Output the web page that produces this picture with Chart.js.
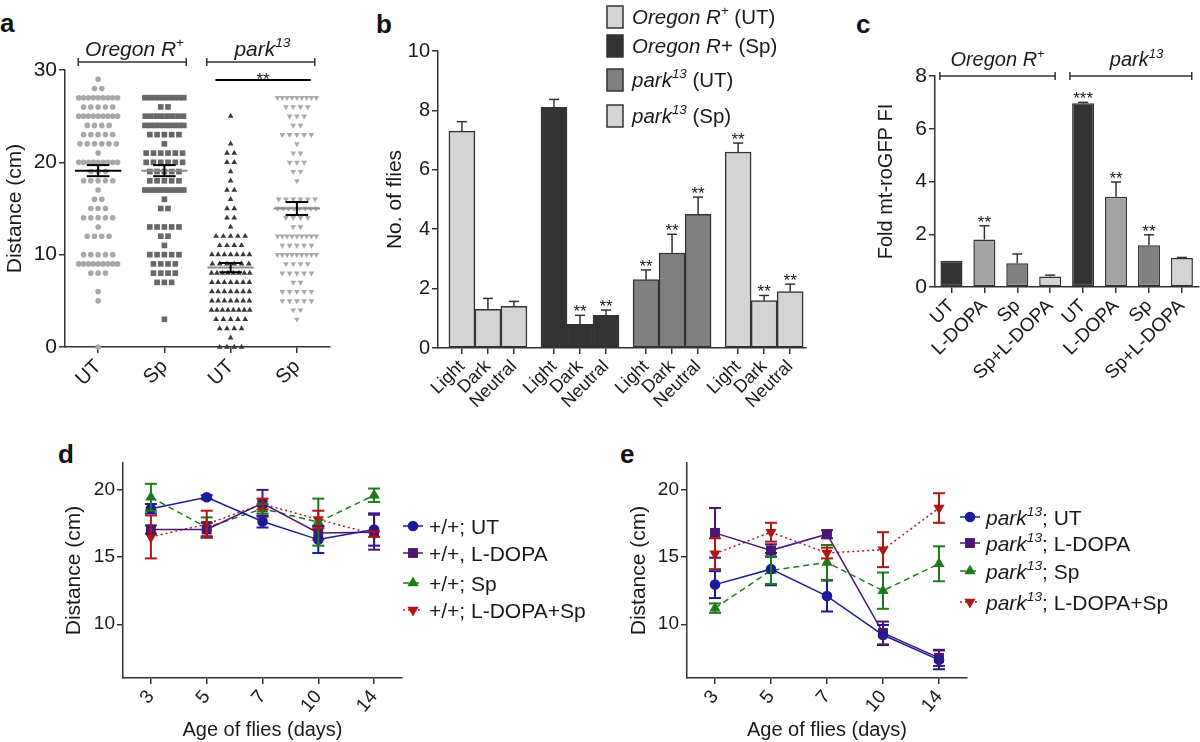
<!DOCTYPE html>
<html>
<head>
<meta charset="utf-8">
<script src="https://cdn.jsdelivr.net/npm/chart.js@4"></script>
<style>
  body { margin: 0; width: 1200px; height: 742px; position: relative; overflow: hidden; background: #fff;
         font-family: "Liberation Sans", Arial, sans-serif; }
  canvas { position: absolute; }
  .letter { position: absolute; font-weight: bold; font-size: 26px; line-height: 26px; color: #111; }
</style>
</head>
<body>
<div class="letter" style="left:0;top:10px">a</div>
<div class="letter" style="left:376px;top:11px">b</div>
<div class="letter" style="left:856px;top:11px">c</div>
<div class="letter" style="left:58px;top:441px">d</div>
<div class="letter" style="left:620px;top:441px">e</div>

<canvas id="chartA" width="345" height="400" style="left:0;top:0"></canvas>
<canvas id="chartB" width="440" height="410" style="left:370px;top:0"></canvas>
<canvas id="chartC" width="350" height="400" style="left:850px;top:0"></canvas>
<canvas id="chartD" width="560" height="322" style="left:40px;top:420px"></canvas>
<canvas id="chartE" width="600" height="322" style="left:600px;top:420px"></canvas>

<script>
// ---- panel a: distance climbed, one row per [distance, number of flies]
const groupsA = ["UT", "Sp", "UT", "Sp"];
const rowsOregonUT = [[29,1],[28,2],[27,9],[26,5],[25,9],[24,4],[23,5],[22,6],[21,1],[20,9],[19,3],[18,5],
                      [17,1],[16,2],[15,3],[14,5],[13,1],[12,4],[10,5],[9,9],[8,3],[6,1],[5,1],[0,1]];
const rowsOregonSp = [[27,9],[26,2],[25,8],[24,9],[23,5],[22,1],[21,6],[20,6],[19,5],[18,5],[17,9],[16,1],
                      [15,2],[13,5],[12,2],[11,1],[10,5],[9,4],[8,4],[7,3],[3,1]];
const rowsParkUT = [[25,1],[22,1],[21,2],[20,2],[19,1],[18,1],[17,2],[16,1],[15,2],[14,2],[13,1],[12,5],
                    [11,4],[10,7],[9,6],[8,8],[7,7],[6,7],[5,7],[4,8],[3,5],[2,4],[1,1],[0,4]];
const rowsParkSp = [[27,9],[26,4],[25,3],[24,2],[23,5],[22,1],[21,2],[20,3],[19,2],[18,1],[16,6],[15,8],
                    [14,4],[13,2],[12,9],[11,5],[10,9],[9,4],[8,5],[7,2],[6,5],[5,5],[4,2],[3,1]];
const meansA = [19.1, 19.1, 8.6, 15.0];
const semA = [0.6, 0.6, 0.5, 0.7];

// ---- panel b: phototaxis choice
const locationsB = ["Light", "Dark", "Neutral"];
const oregonUTb = [7.3, 1.3, 1.4];
const oregonUTbErr = [0.32, 0.37, 0.17];
const oregonSpb = [8.1, 0.8, 1.1];
const oregonSpbErr = [0.27, 0.3, 0.18];
const parkUTb = [2.3, 3.2, 4.5];
const parkUTbErr = [0.33, 0.63, 0.58];
const parkSpb = [6.6, 1.6, 1.9];
const parkSpbErr = [0.3, 0.17, 0.25];
const starsB = [["", "", ""], ["", "**", "**"], ["**", "**", "**"], ["**", "**", "**"]];

// ---- panel c: mt-roGFP fluorescence
const treatmentsC = ["UT", "L-DOPA", "Sp", "Sp+L-DOPA", "UT", "L-DOPA", "Sp", "Sp+L-DOPA"];
const foldC = [1.0, 1.8, 0.9, 0.4, 6.97, 3.42, 1.58, 1.1];
const foldErrC = [0, 0.52, 0.35, 0.05, 0.03, 0.56, 0.4, 0.02];
const starsC = ["", "**", "", "", "***", "**", "**", ""];

// ---- panels d, e: distance vs age
const ages = ["3", "5", "7", "10", "14"];
const treatmentsDE = ["UT", "L-DOPA", "Sp", "L-DOPA+Sp"];
const wtUT = [18.6, 19.45, 17.65, 16.3, 17.05];
const wtUTErr = [0.35, 0.15, 0.45, 1.0, 1.2];
const wtLD = [17.05, 17.05, 19.0, 16.8, 16.85];
const wtLDErr = [0.3, 0.5, 1.0, 0.5, 1.3];
const wtSp = [19.45, 17.2, 18.6, 17.6, 19.6];
const wtSpErr = [1.0, 0.75, 0.35, 1.75, 0.5];
const wtLDSp = [16.5, 17.45, 18.95, 17.8, 16.7];
const wtLDSpErr = [1.6, 1.0, 0.4, 0.65, 0.2];
const parkUT = [12.95, 14.1, 12.1, 9.2, 7.35];
const parkUTErr = [1.0, 1.2, 1.15, 0.75, 0.7];
const parkLD = [16.8, 15.5, 16.7, 9.35, 7.5];
const parkLDErr = [1.85, 0.45, 0.3, 0.85, 0.6];
const parkSp = [11.2, 14.0, 14.6, 12.5, 14.5];
const parkSpErr = [0.35, 1.0, 1.3, 1.35, 1.3];
const parkLDSp = [15.25, 16.85, 15.3, 15.55, 18.65];
const parkLDSpErr = [1.15, 0.7, 0.4, 1.3, 1.1];

const FONT = '"Liberation Sans", Arial, sans-serif';
const TEXT = "#1a1a1a";
const colorsDE = ["#1b1b9a", "#4b1670", "#1d7a1d", "#b31414"];
const dashesDE = [[], [], [6, 4], [2, 3]];
const markersDE = [{style: "circle", r: 5.3}, {style: "rect", r: 7}, {style: "triangle", r: 6.5}, {style: "down", r: 6.5}];

Chart.defaults.font.family = FONT;
Chart.defaults.color = TEXT;
Chart.defaults.animation = false;
Chart.defaults.events = [];
Chart.defaults.plugins.legend.display = false;
Chart.defaults.plugins.tooltip.enabled = false;

// ---------- drawing helpers
function line(ctx, x1, y1, x2, y2) {
    ctx.beginPath();
    ctx.moveTo(x1, y1);
    ctx.lineTo(x2, y2);
    ctx.stroke();
}

function richText(ctx, x, y, parts, size, align) {
    // parts: [text, style], style "i" italic, "s" superscript
    let total = 0;
    const pieces = parts.map(([t, s]) => {
        const sz = s.includes("s") ? size * 0.65 : size;
        const font = (s.includes("i") ? "italic " : "") + sz + "px " + FONT;
        ctx.font = font;
        const w = ctx.measureText(t).width;
        total += w;
        return {t, font, w, up: s.includes("s") ? size * 0.42 : 0};
    });
    let cx = align === "center" ? x - total / 2 : x;
    ctx.textAlign = "left";
    ctx.textBaseline = "alphabetic";
    ctx.fillStyle = TEXT;
    pieces.forEach(p => {
        ctx.font = p.font;
        ctx.fillText(p.t, cx, y - p.up);
        cx += p.w;
    });
}

function bracket(ctx, x1, x2, y) {
    ctx.strokeStyle = "#333";
    ctx.lineWidth = 1.5;
    line(ctx, x1, y, x2, y);
    line(ctx, x1, y - 4, x1, y + 4);
    line(ctx, x2, y - 4, x2, y + 4);
}

function marker(ctx, style, x, y, r, color) {
    ctx.fillStyle = color;
    ctx.beginPath();
    if (style === "circle") {
        ctx.arc(x, y, r, 0, Math.PI * 2);
    } else if (style === "rect") {
        const s = r * Math.SQRT1_2;
        ctx.rect(x - s, y - s, 2 * s, 2 * s);
    } else {
        const d = style === "down" ? -1 : 1;
        ctx.moveTo(x, y - d * r);
        ctx.lineTo(x + r * 0.866, y + d * r * 0.5);
        ctx.lineTo(x - r * 0.866, y + d * r * 0.5);
        ctx.closePath();
    }
    ctx.fill();
}

function makeAxis(o) {
    const ax = {
        type: o.type || "linear",
        min: o.min,
        max: o.max,
        offset: !!o.offset,
        border: {color: "#333", width: 1.5},
        grid: {drawOnChartArea: false, color: "#333", lineWidth: 1.5, tickLength: 6, offset: false},
        ticks: {color: TEXT, font: {size: o.fontSize}, padding: 2, autoSkip: false,
                maxRotation: o.rot || 0, minRotation: o.rot || 0},
        title: o.title ? {display: true, text: o.title, color: TEXT, font: {size: o.titleSize}, padding: o.titlePad}
                       : {display: false},
        afterFit: o.fit
    };
    if (o.values) ax.afterBuildTicks = s => { s.ticks = o.values.map(v => ({value: v})); };
    if (o.labels) ax.ticks.callback = (v, i) => o.labels[i];
    return ax;
}

// error bars (and significance stars) read from dataset.errors / dataset.stars
const errorBars = {
    id: "errorBars",
    afterDatasetsDraw(chart) {
        const ctx = chart.ctx, y = chart.scales.y;
        chart.data.datasets.forEach((ds, di) => {
            if (!ds.errors) return;
            const meta = chart.getDatasetMeta(di);
            ctx.save();
            ctx.setLineDash([]);
            ctx.strokeStyle = ds.errColor || ds.borderColor;
            ctx.lineWidth = ds.errWidth || 1.5;
            meta.data.forEach((el, i) => {
                const raw = ds.data[i];
                const v = typeof raw === "object" ? raw.y : raw;
                const e = ds.errors[i];
                const top = y.getPixelForValue(v + e);
                const bot = y.getPixelForValue(ds.upOnly ? v : v - e);
                const cap = ds.capWidth / 2;
                if (e > 0) {
                    line(ctx, el.x, bot, el.x, top);
                    line(ctx, el.x - cap, top, el.x + cap, top);
                    if (!ds.upOnly) line(ctx, el.x - cap, bot, el.x + cap, bot);
                }
                if (ds.stars && ds.stars[i]) {
                    ctx.fillStyle = TEXT;
                    ctx.font = "17px " + FONT;
                    ctx.textAlign = "center";
                    ctx.textBaseline = "alphabetic";
                    ctx.fillText(ds.stars[i], el.x, top + 2);
                }
            });
            ctx.restore();
        });
    }
};

// ---------- panel a
function swarm(rows, center) {
    const pts = [];
    rows.forEach(([value, count]) => {
        const step = Math.min(0.11, 0.66 / count);
        for (let i = 0; i < count; i++) {
            pts.push({x: center + (i - (count - 1) / 2) * step, y: value});
        }
    });
    return pts;
}

const meanColorsA = ["#000", "#8c8c8c", "#8c8c8c", "#8c8c8c"];

const panelAExtras = {
    id: "panelAExtras",
    afterDatasetsDraw(chart) {
        const {ctx, chartArea, scales: {x, y}} = chart;
        ctx.save();
        meansA.forEach((m, i) => {
            const c = i + 1;
            ctx.strokeStyle = meanColorsA[i];
            ctx.lineWidth = 2;
            line(ctx, x.getPixelForValue(c - 0.35), y.getPixelForValue(m), x.getPixelForValue(c + 0.35), y.getPixelForValue(m));
            ctx.strokeStyle = "#000";
            ctx.lineWidth = 2;
            const t = y.getPixelForValue(m + semA[i]), b = y.getPixelForValue(m - semA[i]);
            const xc = x.getPixelForValue(c), xl = x.getPixelForValue(c - 0.17), xr = x.getPixelForValue(c + 0.17);
            line(ctx, xc, t, xc, b);
            line(ctx, xl, t, xr, t);
            line(ctx, xl, b, xr, b);
        });
        const top = chartArea.top;
        bracket(ctx, x.getPixelForValue(0.7), x.getPixelForValue(2.33), top - 8);
        bracket(ctx, x.getPixelForValue(2.64), x.getPixelForValue(4.27), top - 8);
        richText(ctx, x.getPixelForValue(1.55), top - 14, [["Oregon R", "i"], ["+", "s"]], 21, "center");
        richText(ctx, x.getPixelForValue(3.48), top - 14, [["park", "i"], ["13", "is"]], 21, "center");
        ctx.strokeStyle = "#000";
        ctx.lineWidth = 2;
        line(ctx, x.getPixelForValue(2.77), top + 10, x.getPixelForValue(4.21), top + 10);
        ctx.fillStyle = TEXT;
        ctx.font = "17px " + FONT;
        ctx.textAlign = "center";
        ctx.fillText("**", x.getPixelForValue(3.49), top + 15);
        ctx.restore();
    }
};

function dotSet(rows, center, style, radius, color, rotation) {
    return {data: swarm(rows, center), pointStyle: style, pointRadius: radius, pointRotation: rotation || 0,
            pointBackgroundColor: color, backgroundColor: color, pointBorderWidth: 0, borderWidth: 0,
            showLine: false, clip: false};
}

new Chart(document.getElementById("chartA"), {
    type: "scatter",
    data: {
        datasets: [
            dotSet(rowsOregonUT, 1, "circle", 2.8, "#a8a8a8"),
            dotSet(rowsOregonSp, 2, "rect", 4, "#686868"),
            dotSet(rowsParkUT, 3, "triangle", 3.3, "#383838"),
            dotSet(rowsParkSp, 4, "triangle", 3.3, "#a8a8a8", 180)
        ]
    },
    options: {
        responsive: false,
        layout: {padding: {top: 70, right: 15, left: 0, bottom: 0}},
        scales: {
            x: makeAxis({min: 0.5, max: 4.5, values: [1, 2, 3, 4], labels: groupsA, rot: 45, fontSize: 20,
                         fit: s => { s.height = 53; }}),
            y: makeAxis({min: 0, max: 30, values: [0, 10, 20, 30], fontSize: 21, title: "Distance (cm)",
                         titleSize: 21, titlePad: {top: 3, bottom: 0}, fit: s => { s.width = 65; }})
        }
    },
    plugins: [panelAExtras]
});

// ---------- panel b
const seriesB = [oregonUTb, oregonSpb, parkUTb, parkSpb];
const errB = [oregonUTbErr, oregonSpbErr, parkUTbErr, parkSpbErr];
const fillB = ["#d4d4d4", "#333333", "#808080", "#d4d4d4"];
const legendB = [
    [["Oregon R", "i"], ["+", "s"], [" (UT)", ""]],
    [["Oregon R", "i"], ["+ (Sp)", ""]],
    [["park", "i"], ["13", "is"], [" (UT)", ""]],
    [["park", "i"], ["13", "is"], [" (Sp)", ""]]
];
const groupStrideB = 3.54;
const posB = [];
seriesB.forEach((vals, g) => vals.forEach((v, j) => posB.push(g * groupStrideB + j)));

const panelBLegend = {
    id: "panelBLegend",
    afterDraw(chart) {
        const {ctx, chartArea} = chart;
        const rows = [-34, -5, 29, 65];
        const bx = chartArea.left + 169;
        ctx.save();
        legendB.forEach((parts, k) => {
            const cy = chartArea.top + rows[k];
            ctx.fillStyle = fillB[k];
            ctx.fillRect(bx, cy - 11, 16, 22);
            ctx.strokeStyle = "#333";
            ctx.lineWidth = 1.5;
            ctx.strokeRect(bx, cy - 11, 16, 22);
            richText(ctx, bx + 25, cy + 7, parts, 20.5, "left");
        });
        ctx.restore();
    }
};

new Chart(document.getElementById("chartB"), {
    type: "bar",
    data: {
        datasets: seriesB.map((vals, g) => ({
            data: vals.map((v, j) => ({x: g * groupStrideB + j, y: v})),
            backgroundColor: fillB[g], borderColor: "#333", borderWidth: 1.5, borderSkipped: false,
            grouped: false, barPercentage: 1, categoryPercentage: 1,
            errors: errB[g], stars: starsB[g], upOnly: true, capWidth: 10, errColor: "#333", errWidth: 1.5
        }))
    },
    options: {
        responsive: false,
        layout: {padding: {top: 51, right: 4, left: 0, bottom: 0}},
        scales: {
            x: makeAxis({min: -0.92, max: 13.23, values: posB, labels: posB.map((p, i) => locationsB[i % 3]),
                         rot: 45, fontSize: 18, fit: s => { s.height = 62; }}),
            y: makeAxis({min: 0, max: 10, values: [0, 2, 4, 6, 8, 10], fontSize: 20, title: "No. of flies",
                         titleSize: 21, titlePad: {top: 13, bottom: 0}, fit: s => { s.width = 68; }})
        }
    },
    plugins: [errorBars, panelBLegend]
});

// ---------- panel c
const fillC = ["#333333", "#a3a3a3", "#808080", "#d4d4d4", "#333333", "#a3a3a3", "#808080", "#d4d4d4"];

const panelCExtras = {
    id: "panelCExtras",
    afterDraw(chart) {
        const {ctx, chartArea, scales: {x}} = chart;
        const step = (x.right - x.left) / treatmentsC.length;
        const px = v => x.left + (v + 0.5) * step;
        const top = chartArea.top;
        ctx.save();
        bracket(ctx, px(-0.35), px(3.15), top);
        bracket(ctx, px(3.6), px(7.3), top);
        richText(ctx, px(1.4), top - 10, [["Oregon R", "i"], ["+", "s"]], 20, "center");
        richText(ctx, px(5.62), top - 10, [["park", "i"], ["13", "is"]], 20, "center");
        ctx.restore();
    }
};

new Chart(document.getElementById("chartC"), {
    type: "bar",
    data: {
        labels: treatmentsC,
        datasets: [{
            data: foldC, backgroundColor: fillC, borderColor: "#333", borderWidth: 1.5, borderSkipped: false,
            barPercentage: 0.67, categoryPercentage: 1,
            errors: foldErrC, stars: starsC, upOnly: true, capWidth: 10, errColor: "#333", errWidth: 1.5
        }]
    },
    options: {
        responsive: false,
        layout: {padding: {top: 76, right: 0, left: 0, bottom: 0}},
        scales: {
            x: makeAxis({type: "category", offset: true, rot: 45, fontSize: 19, fit: s => { s.height = 113; }}),
            y: makeAxis({min: 0, max: 8, values: [0, 2, 4, 6, 8], fontSize: 21, title: "Fold mt-roGFP FI",
                         titleSize: 20, titlePad: {top: 24, bottom: 0}, fit: s => { s.width = 85; }})
        }
    },
    plugins: [errorBars, panelCExtras]
});

// ---------- panels d, e
function lineSets(series, errs) {
    return series.map((vals, k) => ({
        data: vals, errors: errs[k], capWidth: 12, errWidth: 2,
        borderColor: colorsDE[k], backgroundColor: colorsDE[k], pointBackgroundColor: colorsDE[k],
        pointStyle: markersDE[k].style === "down" ? "triangle" : markersDE[k].style,
        pointRotation: markersDE[k].style === "down" ? 180 : 0,
        pointRadius: markersDE[k].r, pointBorderWidth: 0,
        borderWidth: 1.5, borderDash: dashesDE[k], fill: false, tension: 0, clip: false
    }));
}

function lineLegend(id, labels, dx, rows) {
    return {
        id: id,
        afterDraw(chart) {
            const {ctx, chartArea} = chart;
            const x0 = chartArea.right + dx;
            ctx.save();
            labels.forEach((parts, k) => {
                const y = chartArea.top + rows[k];
                ctx.strokeStyle = colorsDE[k];
                ctx.lineWidth = 1.5;
                ctx.setLineDash(dashesDE[k]);
                line(ctx, x0 - 10, y, x0 + 10, y);
                ctx.setLineDash([]);
                marker(ctx, markersDE[k].style, x0, y, markersDE[k].r, colorsDE[k]);
                richText(ctx, x0 + 16, y + 7.5, parts, 21, "left");
            });
            ctx.restore();
        }
    };
}

function lineOptions(yWidth, yTitlePad, rightPad) {
    return {
        responsive: false,
        layout: {padding: {top: 43, right: rightPad, left: 0, bottom: 0}},
        scales: {
            x: makeAxis({type: "category", offset: true, rot: 50, fontSize: 19, title: "Age of flies (days)",
                         titleSize: 20, titlePad: {top: 0, bottom: 0}, fit: s => { s.height = 64; }}),
            y: makeAxis({min: 6, max: 22, values: [10, 15, 20], fontSize: 19, title: "Distance (cm)",
                         titleSize: 21, titlePad: {top: yTitlePad, bottom: 0}, fit: s => { s.width = yWidth; }})
        }
    };
}

new Chart(document.getElementById("chartD"), {
    type: "line",
    data: {labels: ages, datasets: lineSets([wtUT, wtLD, wtSp, wtLDSp], [wtUTErr, wtLDErr, wtSpErr, wtLDSpErr])},
    options: lineOptions(83, 22, 198),
    plugins: [errorBars, lineLegend("legendD",
        [[["+/+; UT", ""]], [["+/+, L-DOPA", ""]], [["+/+; Sp", ""]], [["+/+; L-DOPA+Sp", ""]]],
        11, [63, 90, 120, 147])]
});

new Chart(document.getElementById("chartE"), {
    type: "line",
    data: {labels: ages, datasets: lineSets([parkUT, parkLD, parkSp, parkLDSp], [parkUTErr, parkLDErr, parkSpErr, parkLDSpErr])},
    options: lineOptions(87, 27, 233),
    plugins: [errorBars, lineLegend("legendE",
        treatmentsDE.map(t => [["park", "i"], ["13", "is"], ["; " + t, ""]]),
        3, [54, 80, 108, 139])]
});
</script>
</body>
</html>
